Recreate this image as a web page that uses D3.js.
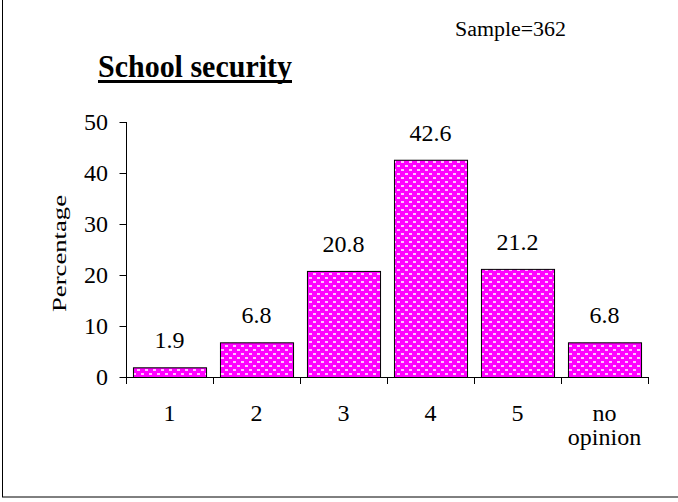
<!DOCTYPE html>
<html><head><meta charset="utf-8">
<script src="https://cdn.jsdelivr.net/npm/d3@7"></script>
<style>body{margin:0;background:#fff}text{font-family:'Liberation Serif','Times New Roman',Times,serif}</style>
</head><body>
<svg id="c" width="678" height="502"></svg>
<script>
const categories = ["1","2","3","4","5","no opinion"];
const values = [1.9, 6.8, 20.8, 42.6, 21.2, 6.8];
const yTicks = [0,10,20,30,40,50];
const title = "School security";
const sampleText = "Sample=362";
const yLabel = "Percentage";

const FF = "'Liberation Serif','Times New Roman',Times,serif";
const svg = d3.select("#c");
const defs = svg.append("defs");
const pat = defs.append("pattern").attr("id","dots").attr("patternUnits","userSpaceOnUse")
  .attr("width",8).attr("height",8);
pat.append("rect").attr("width",8).attr("height",8).attr("fill","#ff00ff");
pat.append("rect").attr("x",1).attr("y",1).attr("width",3).attr("height",2).attr("fill","#ffc4ff");
pat.append("rect").attr("x",5).attr("y",5).attr("width",3).attr("height",2).attr("fill","#ffc4ff");

svg.append("rect").attr("x",2.5).attr("y",-5).attr("width",690).attr("height",502)
  .attr("fill","none").attr("stroke","#000").attr("stroke-width",1);

const x = d3.scaleBand().domain(categories).range([126,648]).paddingInner(0.16).paddingOuter(0.08);
const xb = d3.scaleBand().domain(categories).range([126,648]);
const y = d3.scaleLinear().domain([0,50]).range([377,122]);

const ya = svg.append("g").attr("transform","translate(126,0)")
  .call(d3.axisLeft(y).tickValues(yTicks).tickSize(7).tickPadding(11).tickFormat(d3.format("d")));
ya.attr("font-family",FF).attr("font-size",24);
ya.select(".domain").attr("d","M0.5,122V377");
ya.selectAll(".tick line").attr("x2",-7).attr("transform","translate(0.5,0)");
ya.selectAll("text").attr("fill","#000").style("font-family",FF);

svg.append("line").attr("x1",126).attr("x2",648).attr("y1",377.5).attr("y2",377.5).attr("stroke","#000");
const bounds = categories.map(c=>xb(c)).concat([648]);
svg.selectAll(".xt").data(bounds).enter().append("line")
  .attr("x1",d=>Math.round(d)+0.5).attr("x2",d=>Math.round(d)+0.5).attr("y1",377).attr("y2",384).attr("stroke","#000");

svg.selectAll(".bar").data(values).enter().append("rect")
  .attr("x",(d,i)=>x(categories[i])+0.5).attr("width",x.bandwidth())
  .attr("y",d=>y(d)+0.5).attr("height",d=>y(0)-y(d))
  .attr("fill","url(#dots)").attr("stroke","#000").attr("stroke-width",1);

svg.selectAll(".vl").data(values).enter().append("text")
  .attr("x",(d,i)=>xb(categories[i])+xb.bandwidth()/2).attr("y",d=>y(d)-19)
  .attr("text-anchor","middle").attr("font-size",24).style("font-family",FF).text(d=>d.toFixed(1));

categories.forEach((c,i)=>{
  const cx = xb(c)+xb.bandwidth()/2;
  const parts = c==="no opinion" ? ["no","opinion"] : [c];
  parts.forEach((p,j)=>{
    svg.append("text").attr("x",cx).attr("y",421+j*24).attr("text-anchor","middle")
      .attr("font-size",24).style("font-family",FF).text(p);
  });
});

svg.append("text").attr("transform","translate(66,253.5) rotate(-90)").attr("text-anchor","middle")
  .attr("font-size",19).attr("textLength",117).attr("lengthAdjust","spacingAndGlyphs")
  .style("font-family",FF).text(yLabel);

svg.append("text").attr("x",98).attr("y",77).attr("font-size",31).attr("font-weight","bold")
  .attr("textLength",194).attr("lengthAdjust","spacingAndGlyphs").style("font-family",FF).text(title);
svg.append("line").attr("x1",98).attr("x2",292).attr("y1",81.5).attr("y2",81.5).attr("stroke","#000").attr("stroke-width",3);

svg.append("text").attr("x",455).attr("y",36).attr("font-size",20)
  .attr("textLength",111).attr("lengthAdjust","spacingAndGlyphs").style("font-family",FF).text(sampleText);
</script>
</body></html>
